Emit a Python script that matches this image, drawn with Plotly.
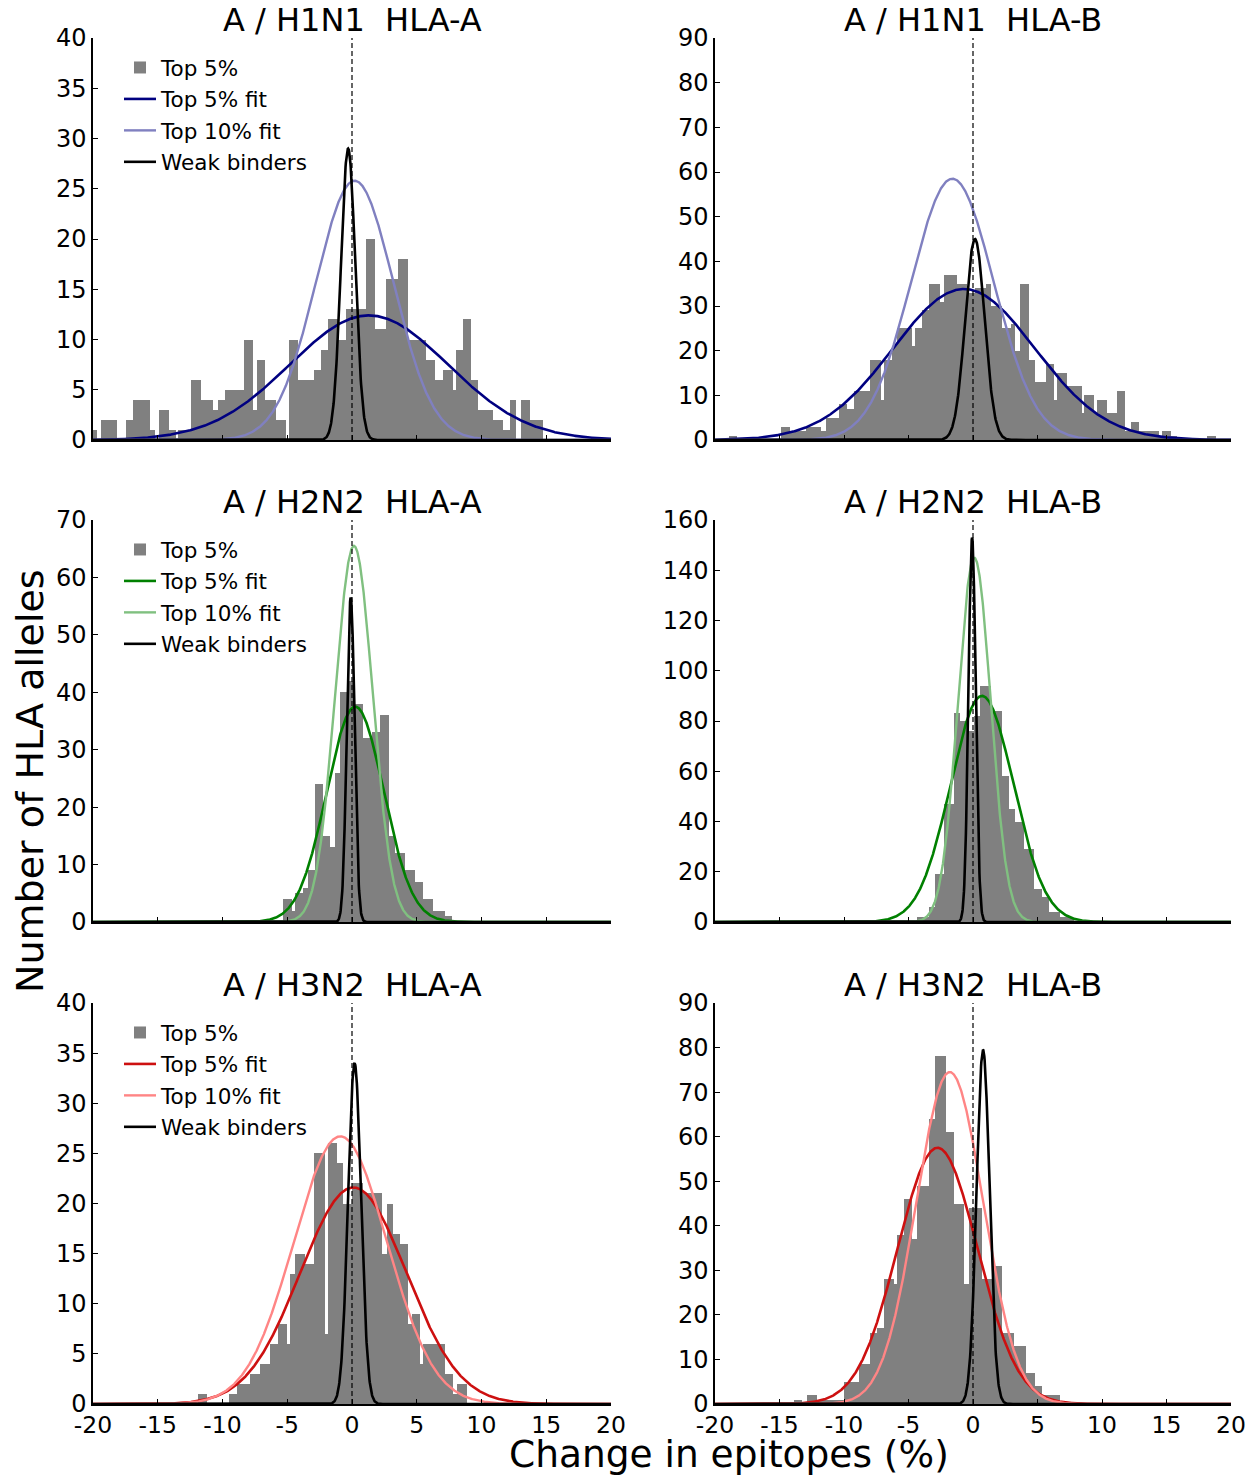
import numpy as np
import plotly.graph_objects as go

# ---------------- data ----------------
x_tick_vals = [-20, -15, -10, -5, 0, 5, 10, 15, 20]
x_tick_text = ["-20", "-15", "-10", "-5", "0", "5", "10", "15", "20"]

panel_titles = ["A / H1N1\u00a0\u00a0HLA-A", "A / H1N1\u00a0\u00a0HLA-B",
                "A / H2N2\u00a0\u00a0HLA-A", "A / H2N2\u00a0\u00a0HLA-B",
                "A / H3N2\u00a0\u00a0HLA-A", "A / H3N2\u00a0\u00a0HLA-B"]
y_max = [40, 90, 70, 160, 40, 90]
y_step = [5, 10, 10, 20, 5, 10]

legend_names = ["Top 5%", "Top 5% fit", "Top 10% fit", "Weak binders"]

# Histogram bin edges (% change) and counts (number of HLA alleles), "Top 5%"
h1n1_a_edges = [-20.0, -19.69, -19.35, -18.14, -17.42, -16.9, -15.62, -15.24, -14.9, -14.15,
                -13.61, -13.43, -12.4, -11.63, -10.73, -10.35, -9.83, -8.36, -7.64, -7.33,
                -6.74, -5.84, -5.07, -4.89, -4.17, -2.96, -2.42, -1.85, -1.08, -0.44,
                1.11, 1.75, 2.65, 3.55, 4.33, 5.74, 6.39, 7.03, 7.8, 8.06,
                8.57, 9.22, 9.73, 10.89, 11.66, 12.18, 12.69, 13.08, 13.72, 14.75]
h1n1_a_counts = [1, 0, 2, 0, 2, 4, 1, 0, 3, 1,
                 0, 1, 6, 4, 3, 4, 5, 10, 3, 8,
                 4, 2, 0, 10, 6, 7, 9, 12, 10, 13,
                 20, 11, 16, 18, 10, 8, 6, 7, 5, 9,
                 12, 6, 3, 2, 1, 4, 0, 4, 2]

h1n1_b_edges = [-18.93, -18.28, -14.92, -14.15, -12.98, -11.82, -11.43, -10.4, -9.75, -9.24,
                -7.95, -7.17, -6.91, -6.27, -5.88, -4.71, -4.46, -3.94, -3.42, -2.52,
                -2.26, -1.23, -0.45, 0.19, 0.97, 1.36, 2.26, 2.91, 3.29, 3.68,
                4.33, 4.84, 5.62, 6.27, 6.52, 7.3, 8.46, 8.59, 9.37, 9.62,
                10.4, 11.18, 11.82, 12.21, 12.86, 14.41, 14.67, 15.31, 15.83, 18.15, 18.8]
h1n1_b_counts = [1, 0, 3, 2, 3, 2, 5, 8, 7, 11,
                 18, 9, 18, 21, 25, 21, 25, 29, 35, 31,
                 37, 35, 33, 34, 35, 30, 25, 26, 20, 35,
                 18, 13, 17, 9, 15, 12, 6, 10, 6, 9,
                 6, 11, 2, 4, 2, 1, 2, 1, 0, 1]

h2n2_a_edges = [-5.3, -4.66, -4.4, -3.76, -3.37, -2.86, -2.21, -1.7, -1.31, -0.93,
                -0.3, 0.15, 0.87, 1.52, 2.16, 2.88, 3.32, 3.71, 4.09, 4.86,
                5.51, 6.28, 7.18, 7.7]
h2n2_a_counts = [4, 2, 5, 6, 9, 24, 15, 13, 26, 40,
                 42, 38, 32, 33, 36, 15, 12, 12, 9, 7,
                 4, 2, 1]

h2n2_b_edges = [-4.33, -3.42, -2.91, -2.26, -1.49, -0.97, -0.45, 0.06, 0.58, 1.36,
                2.26, 2.77, 3.29, 3.93, 4.71, 5.35, 5.87, 6.77, 7.8]
h2n2_b_counts = [2, 6, 19, 47, 83, 80, 76, 82, 94, 84,
                 58, 45, 40, 29, 13, 10, 4, 2]

h3n2_a_edges = [-11.87, -11.22, -9.5, -8.9, -8.26, -7.88, -7.1, -6.33, -5.69, -5.05,
                -4.79, -4.4, -3.63, -2.93, -2.08, -1.83, -1.18, -0.67, -0.03, 0.88,
                2.29, 2.68, 3.19, 3.71, 4.35, 4.61, 5.25, 5.51, 7.18, 7.83, 8.08, 8.86]
h3n2_a_counts = [1, 0, 1, 2, 2, 3, 4, 6, 8, 6,
                 13, 15, 14, 25, 7, 26, 24, 20, 22, 21,
                 15, 20, 17, 16, 8, 9, 4, 6, 3, 1, 2]

h3n2_b_edges = [-13.89, -13.24, -12.85, -12.08, -11.82, -10.01, -8.85, -7.95, -7.43, -6.91,
                -6.14, -5.88, -5.36, -4.71, -4.33, -3.42, -2.91, -2.13, -1.49, -0.71,
                -0.32, 0.71, 1.56, 2.26, 3.16, 4.07, 4.84, 5.36, 6.78]
h3n2_b_counts = [1, 0, 2, 1, 1, 5, 9, 16, 17, 28,
                 27, 38, 46, 37, 49, 64, 78, 61, 45, 27,
                 44, 28, 31, 16, 13, 7, 4, 2]

# Gaussian fit parameters (amplitude, mean, sd)
h1n1_a_fits = {"top5": (12.4, 1.3, 6.1), "top10": (25.8, 0.2, 3.0), "weak": (29.0, -0.3, 0.55)}
h1n1_b_fits = {"top5": (33.8, -0.7, 5.5), "top10": (58.5, -1.6, 3.2), "weak": (45.0, 0.15, 0.75)}
h2n2_a_fits = {"top5": (37.5, 0.25, 2.2), "top10": (65.5, 0.15, 1.45), "weak": (56.5, -0.1, 0.3)}
h2n2_b_fits = {"top5": (90.0, 0.7, 2.45), "top10": (145.0, 0.1, 1.27), "weak": (153.0, -0.07, 0.28)}
h3n2_a_fits = {"top5": (21.6, 0.1, 4.1), "top10": (26.7, -0.9, 3.6), "weak": (34.0, 0.2, 0.5)}
h3n2_b_fits = {"top5": (57.5, -2.75, 3.1), "top10": (74.5, -1.8, 2.6), "weak": (79.5, 0.78, 0.5)}

# ---------------- styling ----------------
FONT = "DejaVu Sans"
W, H = 1257, 1475
col_px = [(93, 611), (715, 1231)]
row_px = [(38, 440), (520, 922), (1003, 1404)]
dark = ["#000080", "#008000", "#cd1010"]
light = ["#8080c0", "#80c080", "#ff8585"]

panels = [
    (h1n1_a_edges, h1n1_a_counts, h1n1_a_fits),
    (h1n1_b_edges, h1n1_b_counts, h1n1_b_fits),
    (h2n2_a_edges, h2n2_a_counts, h2n2_a_fits),
    (h2n2_b_edges, h2n2_b_counts, h2n2_b_fits),
    (h3n2_a_edges, h3n2_a_counts, h3n2_a_fits),
    (h3n2_b_edges, h3n2_b_counts, h3n2_b_fits),
]

xgrid = np.linspace(-20, 20, 1601)


def gauss(params):
    a, m, s = params
    return a * np.exp(-(xgrid - m) ** 2 / (2 * s ** 2))


fig = go.Figure()
layout = dict(width=W, height=H, margin=dict(l=0, r=0, t=0, b=0, autoexpand=False),
              paper_bgcolor="white", plot_bgcolor="white",
              font=dict(family=FONT, color="black"), showlegend=True,
              bargap=0)
annotations = []
shapes = []

for i, (edges, counts, fits) in enumerate(panels):
    n = i + 1
    row, col = i // 2, i % 2
    xs = "x" if n == 1 else f"x{n}"
    ys = "y" if n == 1 else f"y{n}"
    leg_id = None
    if col == 0:
        leg_id = "legend" if row == 0 else f"legend{row + 1}"
    e = np.array(edges)
    centers = (e[:-1] + e[1:]) / 2
    widths = np.diff(e)
    showleg = leg_id is not None
    common = dict(xaxis=xs, yaxis=ys, showlegend=showleg)
    if showleg:
        common["legend"] = leg_id
    fig.add_trace(go.Bar(x=centers, y=counts, width=widths, name=legend_names[0],
                         marker=dict(color="#808080", line=dict(width=0)),
                         legendgroup=f"g{n}a", **common))
    fig.add_trace(go.Scatter(x=xgrid, y=gauss(fits["top5"]), mode="lines", name=legend_names[1],
                             line=dict(color=dark[row], width=2.6), legendgroup=f"g{n}b", **common))
    fig.add_trace(go.Scatter(x=xgrid, y=gauss(fits["top10"]), mode="lines", name=legend_names[2],
                             line=dict(color=light[row], width=2.4), legendgroup=f"g{n}c", **common))
    fig.add_trace(go.Scatter(x=xgrid, y=gauss(fits["weak"]), mode="lines", name=legend_names[3],
                             line=dict(color="black", width=2.6), legendgroup=f"g{n}d", **common))

    x0, x1 = col_px[col]
    yt, yb = row_px[row]
    xdom = [x0 / W, x1 / W]
    ydom = [1 - yb / H, 1 - yt / H]
    axkey = "xaxis" if n == 1 else f"xaxis{n}"
    aykey = "yaxis" if n == 1 else f"yaxis{n}"
    layout[axkey] = dict(domain=xdom, anchor=ys, range=[-20, 20], showgrid=False, zeroline=False,
                         showline=True, linecolor="black", linewidth=1.5, ticks="inside",
                         ticklen=5, tickwidth=1.2, tickcolor="black", automargin=False,
                         tickvals=x_tick_vals, ticktext=x_tick_text, ticklabelstandoff=-1,
                         showticklabels=(row == 2), tickfont=dict(size=23.5, family=FONT))
    layout[aykey] = dict(domain=ydom, anchor=xs, range=[0, y_max[i]], showgrid=False, zeroline=False,
                         showline=True, linecolor="black", linewidth=1.5, ticks="inside",
                         ticklen=5, tickwidth=1.2, tickcolor="black", automargin=False,
                         tick0=0, dtick=y_step[i], tickfont=dict(size=24, family=FONT))
    shapes.append(dict(type="line", xref=xs, yref=f"{ys} domain", x0=0, x1=0, y0=0, y1=1,
                       line=dict(color="black", width=1.2, dash="5px,3px"), layer="above"))
    annotations.append(dict(text=panel_titles[i], xref="paper", yref="paper",
                            x=(xdom[0] + xdom[1]) / 2, y=ydom[1], xanchor="center", yanchor="bottom",
                            yshift=-3, showarrow=False, font=dict(size=32, family=FONT)))
    if showleg:
        layout[leg_id] = dict(x=119 / W, y=1 - (yt + 9) / H, xanchor="left", yanchor="top",
                              bgcolor="rgba(0,0,0,0)", borderwidth=0, traceorder="grouped",
                              tracegroupgap=0.5, itemwidth=32,
                              font=dict(size=21.5, family=FONT, color="black"))

annotations.append(dict(text="Number of HLA alleles", xref="paper", yref="paper",
                        x=30 / W, y=1 - 781 / H, textangle=-90, showarrow=False,
                        xanchor="center", yanchor="middle", font=dict(size=38, family=FONT)))
annotations.append(dict(text="Change in epitopes (%)", xref="paper", yref="paper",
                        x=729 / W, y=1 - 1454 / H, showarrow=False,
                        xanchor="center", yanchor="middle", font=dict(size=37.5, family=FONT)))

layout["annotations"] = annotations
layout["shapes"] = shapes
fig.update_layout(**layout)
fig.write_html("out.html")
